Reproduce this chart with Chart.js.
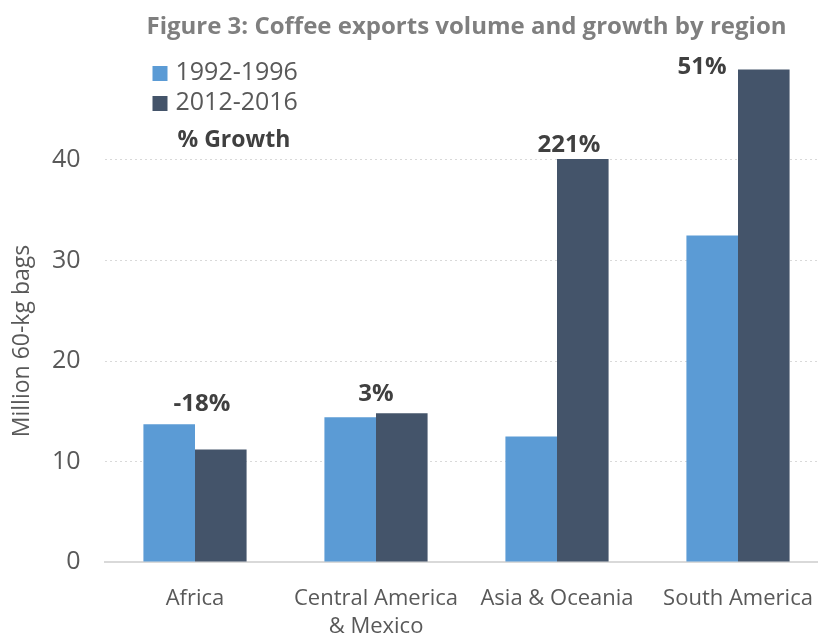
<!DOCTYPE html>
<html>
<head>
<meta charset="utf-8">
<script src="https://cdn.jsdelivr.net/npm/chart.js@4/dist/chart.umd.min.js"></script>
<style>
  html, body { margin: 0; padding: 0; background: #fff; overflow: hidden; }
  canvas { display: block; }
</style>
</head>
<body>
<canvas id="exports" width="830" height="637"></canvas>
<script>
const regions = ['Africa', ['Central America', '& Mexico'], 'Asia & Oceania', 'South America'];
const early = [13.7, 14.4, 12.5, 32.5];
const late = [11.2, 14.8, 40.1, 49.0];
const growth = [-18, 3, 221, 51];
const yTicks = [0, 10, 20, 30, 40];

const FONT = 'Open Sans';
const LIGHT = '#5b9bd5';
const DARK = '#44546a';

// small per-label nudges for the growth figures, in px
const growthNudge = [[7, -20], [0, -19], [12, -14], [-36, -2]];

const growthLabels = {
  id: 'growthLabels',
  afterDatasetsDraw(chart) {
    const { ctx, scales: { x, y } } = chart;
    ctx.save();
    ctx.font = `bold 24px "${FONT}"`;
    ctx.fillStyle = '#404040';
    ctx.textAlign = 'center';
    ctx.textBaseline = 'middle';
    growth.forEach((g, i) => {
      const top = y.getPixelForValue(Math.max(early[i], late[i]));
      const [dx, dy] = growthNudge[i];
      ctx.fillText(`${g}%`, x.getPixelForValue(i) + dx, top + dy);
    });
    ctx.restore();
  },
};

const sideLegend = {
  id: 'sideLegend',
  afterDraw(chart) {
    const { ctx, chartArea } = chart;
    const left = chartArea.left + 48;
    ctx.save();
    ctx.textBaseline = 'middle';
    ctx.textAlign = 'left';
    chart.data.datasets.forEach((ds, i) => {
      const cy = 73 + i * 30;
      ctx.fillStyle = ds.backgroundColor;
      ctx.fillRect(left, cy - 7, 15, 15);
      ctx.fillStyle = '#595959';
      ctx.font = `25px "${FONT}"`;
      ctx.fillText(ds.label, left + 23, cy);
    });
    ctx.fillStyle = '#404040';
    ctx.font = `bold 23px "${FONT}"`;
    ctx.fillText('% Growth', left + 25, 140);

    // y axis title
    ctx.translate(22, 341);
    ctx.rotate(-Math.PI / 2);
    ctx.textAlign = 'center';
    ctx.fillStyle = '#595959';
    ctx.font = `23px "${FONT}"`;
    ctx.fillText('Million 60-kg bags', 0, 0);
    ctx.restore();
  },
};

new Chart(document.getElementById('exports'), {
  type: 'bar',
  data: {
    labels: regions,
    datasets: [
      { label: '1992-1996', data: early, backgroundColor: LIGHT },
      { label: '2012-2016', data: late, backgroundColor: DARK },
    ],
  },
  plugins: [growthLabels, sideLegend],
  options: {
    responsive: false,
    animation: false,
    categoryPercentage: 0.57,
    barPercentage: 1,
    layout: { padding: { left: 0, right: 1.5, top: 0, bottom: 0 } },
    plugins: {
      legend: { display: false },
      tooltip: { enabled: false },
      title: {
        display: true,
        fullSize: false,
        text: 'Figure 3: Coffee exports volume and growth by region',
        color: '#7f7f7f',
        font: { family: FONT, size: 24, weight: 'bold', lineHeight: 1.2 },
        padding: { top: 13, bottom: 17.7 },
      },
    },
    scales: {
      x: {
        grid: { display: false },
        border: { color: '#d9d9d9', width: 2 },
        ticks: {
          color: '#595959',
          padding: 14,
          font: { family: FONT, size: 22, lineHeight: 1.3 },
          maxRotation: 0,
          autoSkip: false,
        },
        afterFit(scale) {
          scale.height = 75;
          // the last label may run past the edge; keep the plot width fixed
          scale.paddingLeft = 0;
          scale.paddingRight = 0;
        },
      },
      y: {
        min: 0,
        max: 50,
        afterBuildTicks(scale) { scale.ticks = yTicks.concat([50]).map((v) => ({ value: v })); },
        grid: {
          color: (c) => (c.tick && c.tick.value > 0 && c.tick.value < 50 ? '#d9d9d9' : 'rgba(0,0,0,0)'),
          drawTicks: false,
          lineWidth: 1,
        },
        border: { display: false, dash: [2, 3] },
        ticks: {
          color: '#595959',
          padding: 24,
          font: { family: FONT, size: 25 },
          callback: (v) => (yTicks.includes(v) ? v : ''),
        },
        afterFit(scale) { scale.width = 104.5; },
      },
    },
  },
});
</script>
</body>
</html>
